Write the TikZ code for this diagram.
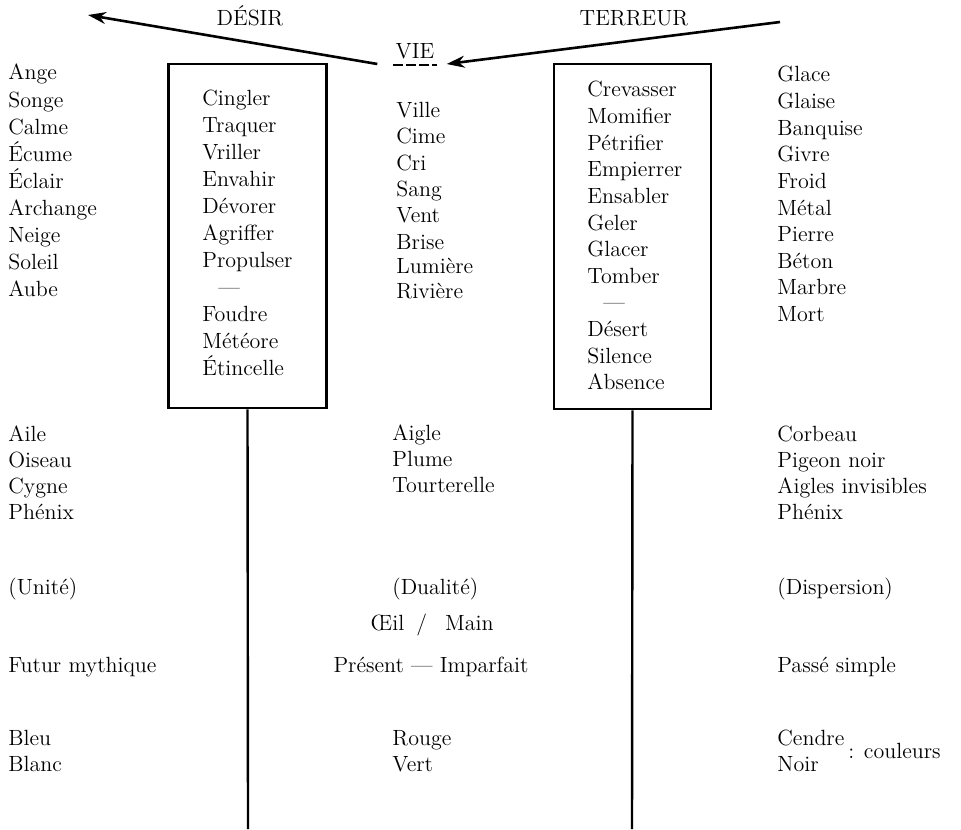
\documentclass[tikz,border=0pt]{standalone}
\usepackage{tikz}
\usetikzlibrary{positioning,arrows.meta}
\tikzset{%
word/.style={anchor=base west,inner sep=0pt,font=\fontsize{11}{13}\selectfont},
title/.style={anchor=base,inner sep=0pt,font=\fontsize{11}{13}\selectfont},
wordbox/.style={draw,rectangle,line width=1.3pt,minimum width=79pt,minimum height=172pt,inner sep=0pt},
stem/.style={line width=1.2pt},
push/.style={line width=1.3pt,-{Stealth[length=9pt,width=6pt]}}
}
\begin{document}
\begin{tikzpicture}[x=0.5pt,y=-0.5pt]
    \useasboundingbox (0,0) rectangle (961,829);

    % en-tete
    \node[title] (desir)   at (250,26) {DÉSIR};
    \node[title] (terreur) at (634,26) {TERREUR};
    \node[title] (vie)     at (415,59) {VIE};
    \draw[line width=1pt,dash pattern=on 5pt off 1.5pt]
        ([xshift=-1pt,yshift=-3pt]vie.base west) -- ([xshift=1pt,yshift=-3pt]vie.base east);

    \coordinate (desirtip)    at (88,15);
    \coordinate (terreurtail) at (780,22);
    \draw[push] ([xshift=-9pt,yshift=-2.5pt]vie.base west) -- (desirtip);
    \draw[push] (terreurtail) -- ([xshift=6pt,yshift=-2.5pt]vie.base east);

    % les deux cadres
    \node[wordbox] (boxdesir)   at (247.5,236) {};
    \node[wordbox,minimum width=78.5pt,minimum height=172.5pt] (boxterreur) at (632.5,236.5) {};
    \coordinate (basdesir)   at (248,829);
    \coordinate (basterreur) at (632,829);
    \draw[stem] (boxdesir.south) -- (basdesir);
    \draw[stem] (boxterreur.south) -- (basterreur);

    % colonnes du haut
    \foreach \w [count=\i from 0] in {Ange,Songe,Calme,Écume,Éclair,Archange,Neige,Soleil,Aube}
        \node[word] (gauche\i) at (8,80+27*\i) {\w};
    \foreach \w [count=\i from 0] in {Cingler,Traquer,Vriller,Envahir,Dévorer,Agriffer,Propulser,{\hspace{8pt}—},Foudre,Météore,Étincelle}
        \node[word] (cadreg\i) at (202,105+27*\i) {\w};
    \foreach \w/\y [count=\i from 0] in {Ville/117,Cime/143,Cri/170,Sang/196,Vent/222,Brise/249,Lumière/273,Rivière/298}
        \node[word] (milieu\i) at (396,\y) {\w};
    \foreach \w [count=\i from 0] in {Crevasser,Momifier,Pétrifier,Empierrer,Ensabler,Geler,Glacer,Tomber,{\hspace{8pt}—},Désert,Silence,Absence}
        \node[word] (cadred\i) at (587,97+26.6*\i) {\w};
    \foreach \w [count=\i from 0] in {Glace,Glaise,Banquise,Givre,Froid,Métal,Pierre,Béton,Marbre,Mort}
        \node[word] (droite\i) at (777,82+26.6*\i) {\w};

    % oiseaux
    \foreach \w [count=\i from 0] in {Aile,Oiseau,Cygne,Phénix}
        \node[word] (aile\i) at (8,441+26.3*\i) {\w};
    \foreach \w [count=\i from 0] in {Aigle,Plume,Tourterelle}
        \node[word] (aigle\i) at (392,440+26.3*\i) {\w};
    \foreach \w [count=\i from 0] in {Corbeau,Pigeon noir,Aigles invisibles,Phénix}
        \node[word] (corbeau\i) at (777,441+26.3*\i) {\w};

    % unite, dualite, dispersion
    \node[word] (unite)      at (8,594)   {(Unité)};
    \node[word] (dualite)    at (392,594) {(Dualité)};
    \node[word] (dispersion) at (777,594) {(Dispersion)};
    \node[title] (oeil)      at (432,630) {Œil\hspace{6pt}/\hspace{9pt}Main};

    \node[word] (futur)    at (8,672)   {Futur mythique};
    \node[title] (present) at (431,672) {Présent — Imparfait};
    \node[word] (passe)    at (777,672) {Passé simple};

    % couleurs
    \node[word] (bleu)   at (8,745)   {Bleu};
    \node[word] (blanc)  at (8,771)   {Blanc};
    \node[word] (rouge)  at (392,745) {Rouge};
    \node[word] (vert)   at (392,771) {Vert};
    \node[word] (cendre) at (777,745) {Cendre};
    \node[word] (noir)   at (777,771) {Noir};
    \node[word] (couleurs) at (848,758) {: couleurs};
\end{tikzpicture}
\end{document}
